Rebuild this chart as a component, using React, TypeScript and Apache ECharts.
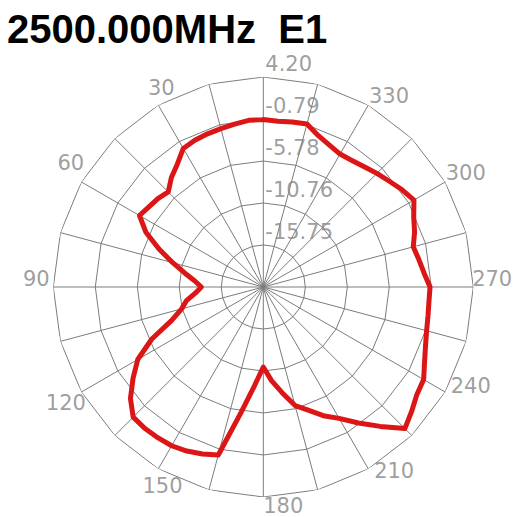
import React, { useEffect, useRef } from "react";
import * as echarts from "echarts";

// ---- data ----
const TITLE = "2500.000MHz  E1";
// radial rings (dB), as printed on the tick labels; centre of the plot is RADIUS_MIN
const RADIUS_MIN = -20.74;
const RING_VALUES = [-15.75, -10.76, -5.78, -0.79, 4.2];
// angle tick labels (degrees, counter-clockwise from top)
const ANGLE_LABELS = [30, 60, 90, 120, 150, 180, 210, 240, 270, 300, 330];
// measurement angles (deg)
const ANGLES = [
  0, 5, 10, 15, 20, 25, 30, 35, 40, 45, 50, 55, 60, 65, 70, 75, 80, 85, 90, 95,
  100, 105, 110, 115, 120, 125, 130, 135, 140, 145, 150, 155, 160, 165, 170,
  175, 180, 185, 190, 195, 200, 205, 210, 215, 220, 225, 230, 235, 240, 245,
  250, 255, 260, 265, 270, 275, 280, 285, 290, 295, 300, 305, 310, 315, 320,
  325, 330, 335, 340, 345, 350, 355, 360,
];
// gain (dB) at each angle
const GAIN = [
  -0.86, -0.87, -1.09, -1.26, -1.38, -1.5, -1.74, -2.93, -3.76, -4.77, -4.4,
  -4.15, -3.76, -5.36, -7.56, -9.6, -11.29, -12.58, -13.38, -12.66, -11.48,
  -10.7, -9.16, -6.13, -3.52, -1.86, -0.14, 1.11, 1.17, 1.11, 1.03, 0.76, 0.36,
  -0.08, -5.65, -9.02, -11.24, -9.58, -8.03, -6.16, -5.17, -3.88, -2.72, -1.03,
  0.87, 3.04, 2.25, 1.53, 1.25, 0.39, -0.24, -0.66, -0.88, -0.99, -0.94, -1.58,
  -1.98, -2.3, -1.62, -1.03, -0.08, -0.61, -1.2, -1.66, -2.09, -2.39, -2.51,
  -2.15, -1.62, -0.7, -0.85, -0.99, -0.86,
];

// ---- styling ----
const GRID_COLOR = "#7c7c7c";
const LABEL_COLOR = "#858585";
const CURVE_COLOR = "#dc1616";
const SPOKE_STEP = 15;
const LABEL_FONT = "DejaVu Sans";
const ANGLE_LABEL_OFFSETS: Record<number, [number, number]> = {
  30: [3, -17.6],
  60: [-10.6, -18.7],
  90: [-17, -8],
  120: [-15.6, 10.8],
  150: [4.2, 17.3],
  180: [20, 8.7],
  210: [25.9, 2.3],
  240: [25.6, -5.8],
  270: [18.9, -7.8],
  300: [20.6, -9.5],
  330: [20.7, -9.6],
};

export default function App() {
  const ref = useRef<HTMLDivElement>(null);

  useEffect(() => {
    if (!ref.current) return;
    const chart = echarts.init(ref.current, undefined, { renderer: "svg" });
    const radiusMax = RING_VALUES[RING_VALUES.length - 1];

    const ringAngles: number[] = [];
    for (let a = 0; a <= 360; a += SPOKE_STEP) ringAngles.push(a);

    const ringSeries = RING_VALUES.map((v) => ({
      type: "line",
      coordinateSystem: "polar",
      data: ringAngles.map((a) => [v, a]),
      showSymbol: false,
      silent: true,
      z: 1,
      lineStyle: { color: GRID_COLOR, width: 1 },
    }));

    const option: any = {
      animation: false,
      backgroundColor: "#ffffff",
      title: {
        text: TITLE,
        left: 7,
        top: 12,
        padding: 0,
        textStyle: {
          fontFamily: "Liberation Sans",
          fontWeight: "bold",
          fontSize: 40,
          lineHeight: 34,
          color: "#000000",
        },
      },
      polar: { center: [263.3, 287], radius: 210 },
      angleAxis: {
        type: "value",
        min: 0,
        max: 360,
        interval: SPOKE_STEP,
        startAngle: 90,
        clockwise: false,
        axisLine: { show: false },
        axisTick: { show: false },
        axisLabel: { show: false },
        splitLine: { show: true, lineStyle: { color: GRID_COLOR, width: 1 } },
      },
      radiusAxis: {
        type: "value",
        min: RADIUS_MIN,
        max: radiusMax,
        axisLine: { show: false },
        axisTick: { show: false },
        axisLabel: { show: false },
        splitLine: { show: false },
      },
      series: [
        ...ringSeries,
        {
          type: "scatter",
          coordinateSystem: "polar",
          symbolSize: 1,
          itemStyle: { color: "rgba(0,0,0,0)" },
          silent: true,
          z: 3,
          data: RING_VALUES.map((v) => [v, 0]),
          label: {
            show: true,
            position: "inside",
            align: "left",
            verticalAlign: "middle",
            offset: [2, -13.3],
            fontFamily: LABEL_FONT,
            fontSize: 21,
            lineHeight: 18,
            color: LABEL_COLOR,
            formatter: (p: any) => Number(p.value[0]).toFixed(2),
          },
        },
        {
          type: "scatter",
          coordinateSystem: "polar",
          symbolSize: 1,
          itemStyle: { color: "rgba(0,0,0,0)" },
          silent: true,
          z: 3,
          data: ANGLE_LABELS.map((a) => ({
            value: [radiusMax, a],
            label: { offset: ANGLE_LABEL_OFFSETS[a] || [0, 0] },
          })),
          label: {
            show: true,
            position: "inside",
            align: "center",
            verticalAlign: "middle",
            fontFamily: LABEL_FONT,
            fontSize: 21,
            lineHeight: 18,
            color: LABEL_COLOR,
            formatter: (p: any) => String(p.value[1]),
          },
        },
        {
          type: "line",
          coordinateSystem: "polar",
          data: ANGLES.map((a, i) => [GAIN[i], a]),
          showSymbol: false,
          silent: true,
          z: 5,
          lineStyle: { color: CURVE_COLOR, width: 5, join: "round", cap: "round" },
        },
      ],
    };
    chart.setOption(option);
    return () => chart.dispose();
  }, []);

  return (
    <div
      ref={ref}
      style={{ position: "fixed", left: 0, top: 0, width: 514, height: 517, background: "#fff" }}
    />
  );
}
